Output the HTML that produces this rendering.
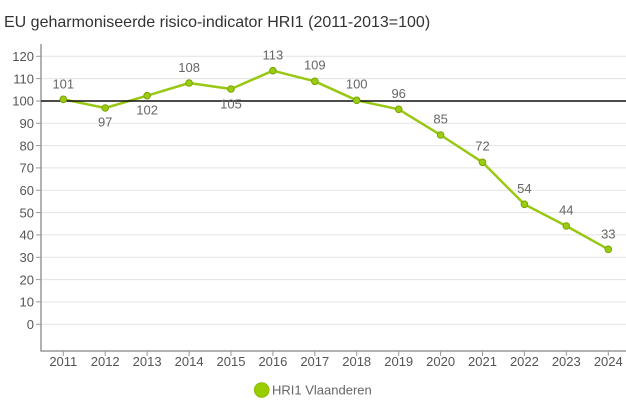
<!DOCTYPE html>
<html>
<head>
<meta charset="utf-8">
<style>
  html, body { margin: 0; padding: 0; background: #fff; }
  svg { display: block; }
  text { font-family: "Liberation Sans", Arial, sans-serif; }
</style>
</head>
<body>
<svg width="626" height="417" viewBox="0 0 626 417" xmlns="http://www.w3.org/2000/svg">
  <rect width="626" height="417" fill="#fff"/>
  <text x="4" y="27" font-size="16" fill="#333">EU geharmoniseerde risico-indicator HRI1 (2011-2013=100)</text>

  <!-- gridlines -->
  <g stroke="#e3e3e3" stroke-width="1">
    <line x1="41" x2="626" y1="56.3" y2="56.3"/>
    <line x1="41" x2="626" y1="78.6" y2="78.6"/>
    <line x1="41" x2="626" y1="123.3" y2="123.3"/>
    <line x1="41" x2="626" y1="145.6" y2="145.6"/>
    <line x1="41" x2="626" y1="167.9" y2="167.9"/>
    <line x1="41" x2="626" y1="190.3" y2="190.3"/>
    <line x1="41" x2="626" y1="212.6" y2="212.6"/>
    <line x1="41" x2="626" y1="234.9" y2="234.9"/>
    <line x1="41" x2="626" y1="257.3" y2="257.3"/>
    <line x1="41" x2="626" y1="279.6" y2="279.6"/>
    <line x1="41" x2="626" y1="301.9" y2="301.9"/>
    <line x1="41" x2="626" y1="324.3" y2="324.3"/>
  </g>

  <!-- y ticks -->
  <g stroke="#999" stroke-width="1">
    <line x1="36" x2="41" y1="56.3" y2="56.3"/>
    <line x1="36" x2="41" y1="78.6" y2="78.6"/>
    <line x1="36" x2="41" y1="101" y2="101"/>
    <line x1="36" x2="41" y1="123.3" y2="123.3"/>
    <line x1="36" x2="41" y1="145.6" y2="145.6"/>
    <line x1="36" x2="41" y1="167.9" y2="167.9"/>
    <line x1="36" x2="41" y1="190.3" y2="190.3"/>
    <line x1="36" x2="41" y1="212.6" y2="212.6"/>
    <line x1="36" x2="41" y1="234.9" y2="234.9"/>
    <line x1="36" x2="41" y1="257.3" y2="257.3"/>
    <line x1="36" x2="41" y1="279.6" y2="279.6"/>
    <line x1="36" x2="41" y1="301.9" y2="301.9"/>
    <line x1="36" x2="41" y1="324.3" y2="324.3"/>
  </g>
  <g font-size="13" fill="#555" text-anchor="end">
    <text x="34" y="61">120</text>
    <text x="34" y="83.3">110</text>
    <text x="34" y="105.7">100</text>
    <text x="34" y="128">90</text>
    <text x="34" y="150.3">80</text>
    <text x="34" y="172.6">70</text>
    <text x="34" y="195">60</text>
    <text x="34" y="217.3">50</text>
    <text x="34" y="239.6">40</text>
    <text x="34" y="262">30</text>
    <text x="34" y="284.3">20</text>
    <text x="34" y="306.6">10</text>
    <text x="34" y="329">0</text>
  </g>

  <!-- axes -->
  <line x1="41" x2="41" y1="44" y2="351" stroke="#999" stroke-width="1.5"/>
  <line x1="40.3" x2="626" y1="351" y2="351" stroke="#999" stroke-width="1.5"/>

  <!-- x ticks -->
  <g stroke="#999" stroke-width="1">
    <line x1="63.3" x2="63.3" y1="351" y2="356"/>
    <line x1="105.2" x2="105.2" y1="351" y2="356"/>
    <line x1="147.1" x2="147.1" y1="351" y2="356"/>
    <line x1="189.1" x2="189.1" y1="351" y2="356"/>
    <line x1="231.0" x2="231.0" y1="351" y2="356"/>
    <line x1="272.9" x2="272.9" y1="351" y2="356"/>
    <line x1="314.8" x2="314.8" y1="351" y2="356"/>
    <line x1="356.7" x2="356.7" y1="351" y2="356"/>
    <line x1="398.7" x2="398.7" y1="351" y2="356"/>
    <line x1="440.6" x2="440.6" y1="351" y2="356"/>
    <line x1="482.5" x2="482.5" y1="351" y2="356"/>
    <line x1="524.4" x2="524.4" y1="351" y2="356"/>
    <line x1="566.3" x2="566.3" y1="351" y2="356"/>
    <line x1="608.3" x2="608.3" y1="351" y2="356"/>
  </g>
  <g font-size="13" fill="#555" text-anchor="middle">
    <text x="63.3" y="366">2011</text>
    <text x="105.2" y="366">2012</text>
    <text x="147.1" y="366">2013</text>
    <text x="189.1" y="366">2014</text>
    <text x="231.0" y="366">2015</text>
    <text x="272.9" y="366">2016</text>
    <text x="314.8" y="366">2017</text>
    <text x="356.7" y="366">2018</text>
    <text x="398.7" y="366">2019</text>
    <text x="440.6" y="366">2020</text>
    <text x="482.5" y="366">2021</text>
    <text x="524.4" y="366">2022</text>
    <text x="566.3" y="366">2023</text>
    <text x="608.3" y="366">2024</text>
  </g>

  <!-- series -->
  <polyline fill="none" stroke="#99c814" stroke-width="2.5" stroke-linejoin="round"
    points="63.3,99.3 105.2,108 147.1,95.7 189.1,83 231.0,89 272.9,70.7 314.8,81.3 356.7,100.3 398.7,109.3 440.6,135 482.5,162.3 524.4,204.3 566.3,226 608.3,249.3"/>

  <!-- reference line 100 -->
  <line x1="41" x2="626" y1="101" y2="101" stroke="#111" stroke-width="1.5"/>

  <g fill="#9acd12" stroke="#7aa300" stroke-width="1">
    <circle cx="63.3" cy="99.3" r="3.3"/>
    <circle cx="105.2" cy="108" r="3.3"/>
    <circle cx="147.1" cy="95.7" r="3.3"/>
    <circle cx="189.1" cy="83" r="3.3"/>
    <circle cx="231.0" cy="89" r="3.3"/>
    <circle cx="272.9" cy="70.7" r="3.3"/>
    <circle cx="314.8" cy="81.3" r="3.3"/>
    <circle cx="356.7" cy="100.3" r="3.3"/>
    <circle cx="398.7" cy="109.3" r="3.3"/>
    <circle cx="440.6" cy="135" r="3.3"/>
    <circle cx="482.5" cy="162.3" r="3.3"/>
    <circle cx="524.4" cy="204.3" r="3.3"/>
    <circle cx="566.3" cy="226" r="3.3"/>
    <circle cx="608.3" cy="249.3" r="3.3"/>
  </g>

  <!-- data labels -->
  <g font-size="13" fill="#666" text-anchor="middle">
    <text x="63.3" y="88.5">101</text>
    <text x="105.2" y="126.5">97</text>
    <text x="147.1" y="114.5">102</text>
    <text x="189.1" y="72">108</text>
    <text x="231.0" y="108.5">105</text>
    <text x="272.9" y="59.5">113</text>
    <text x="314.8" y="69.5">109</text>
    <text x="356.7" y="88.5">100</text>
    <text x="398.7" y="97.8">96</text>
    <text x="440.6" y="123.5">85</text>
    <text x="482.5" y="150.5">72</text>
    <text x="524.4" y="192.8">54</text>
    <text x="566.3" y="214.5">44</text>
    <text x="608.3" y="238.5">33</text>
  </g>

  <!-- legend -->
  <circle cx="261.7" cy="390" r="7.3" fill="#9acd00" stroke="#8ab800" stroke-width="1"/>
  <text x="272" y="394.6" font-size="13" fill="#666">HRI1 Vlaanderen</text>
</svg>
</body>
</html>
